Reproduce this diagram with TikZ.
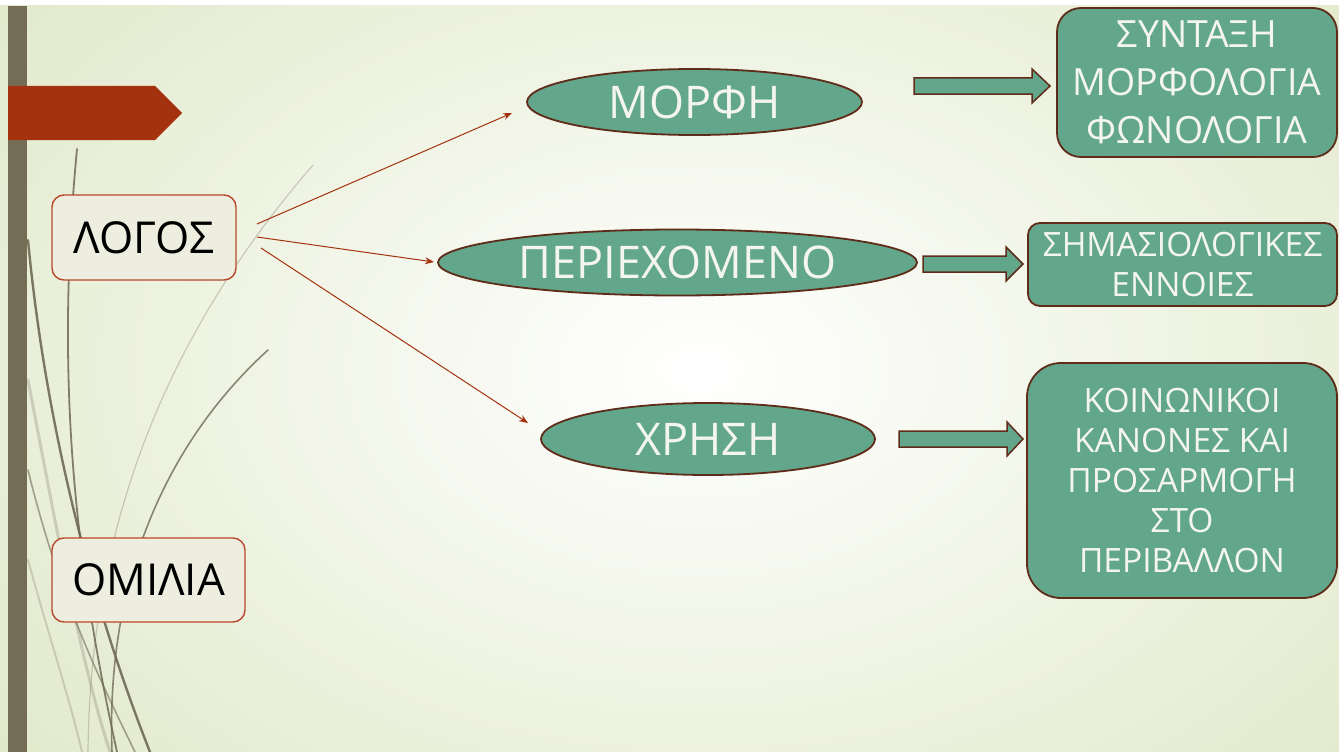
\documentclass[tikz,border=0pt]{standalone}
\usepackage{fontspec}
\setmainfont{Open Sans}
\usetikzlibrary{shapes.geometric,arrows.meta,calc}
\definecolor{bgout}{HTML}{E0E8C8}
\definecolor{barcol}{HTML}{756C55}
\definecolor{tabred}{HTML}{A4320F}
\definecolor{greenfill}{HTML}{62A68B}
\definecolor{darkborder}{HTML}{5E2C18}
\definecolor{lightbox}{HTML}{EDEEDF}
\definecolor{lightborder}{HTML}{B8492C}
\definecolor{stemcol}{HTML}{6F6A55}
\definecolor{txtwhite}{HTML}{F4F6EE}
\newcommand{\blockarr}[4]{% x1, xhead, xtip, ycenter
  \draw[blockarrow] (#1,#4-8) -- (#2,#4-8) -- (#2,#4-17) -- (#3,#4) -- (#2,#4+17) -- (#2,#4+8) -- (#1,#4+8) -- cycle;}
\tikzset{
  greenell/.style={ellipse, draw=darkborder, line width=1.8pt, fill=greenfill, text=txtwhite, inner sep=0pt, font=\fontsize{45}{54}\selectfont},
  greenbox/.style={rectangle, draw=darkborder, line width=1.8pt, fill=greenfill, text=txtwhite, inner sep=0pt, align=center},
  leftbox/.style={rectangle, rounded corners=12pt, draw=lightborder, line width=1.4pt, fill=lightbox, text=black, inner sep=0pt, font=\fontsize{44}{50}\selectfont},
  thinarrow/.style={draw=tabred, line width=1pt, -{Stealth[length=9pt,width=7pt]}},
  blockarrow/.style={draw=darkborder, line width=1.5pt, fill=greenfill},
  stemline/.style={draw=stemcol, line cap=round}
}
\begin{document}
\begin{tikzpicture}[x=1pt,y=-1pt]
\useasboundingbox (0,0) rectangle (1339,752);
% background
\fill[bgout] (0,0) rectangle (1339,752);
\begin{scope}
\clip (0,0) rectangle (1339,752);
\shade[inner color=white, outer color=bgout] (700,370) ellipse [x radius=950, y radius=640];
\end{scope}
\fill[white] (0,0) rectangle (1339,5);
% left bar and tab
\fill[barcol] (8,6) rectangle (27,752);
\fill[tabred] (8,86) -- (155,86) -- (182,113) -- (155,140) -- (8,140) -- cycle;
% decorative stems
\draw[stemline, line width=1.2pt, opacity=.3] (313,165) .. controls (170,330) and (90,520) .. (88,752);
\draw[stemline, line width=3pt, opacity=.25] (28,380) .. controls (55,520) and (80,660) .. (110,752);
\draw[stemline, line width=2pt, opacity=.25] (28,560) .. controls (50,640) and (70,700) .. (82,752);
\draw[stemline, line width=1.8pt, opacity=.85] (77,149) .. controls (55,380) and (75,560) .. (117,752);
\draw[stemline, line width=2.4pt, opacity=.9] (28,240) .. controls (45,420) and (90,600) .. (150,752);
\draw[stemline, line width=1.6pt, opacity=.8] (268,350) .. controls (180,430) and (105,560) .. (112,752);
\draw[stemline, line width=1.6pt, opacity=.6] (28,470) .. controls (60,600) and (100,680) .. (135,752);
% left boxes
\node[leftbox, minimum width=184pt, minimum height=85pt] (logos) at (144,237.5) {ΛΟΓΟΣ};
\node[leftbox, minimum width=193pt, minimum height=84pt] (omilia) at (148.5,580) {ΟΜΙΛΙΑ};
% ellipses
\node[greenell, minimum width=335pt, minimum height=66pt] (morfi) at (694.5,102) {ΜΟΡΦΗ};
\node[greenell, minimum width=479pt, minimum height=66pt] (periex) at (677.5,262.5) {ΠΕΡΙΕΧΟΜΕΝΟ};
\node[greenell, minimum width=334pt, minimum height=72pt] (xrisi) at (708,439) {ΧΡΗΣΗ};
% right boxes
\node[greenbox, rounded corners=24pt, minimum width=280pt, minimum height=149pt, font=\fontsize{37.5}{48}\selectfont] (box1) at (1197,82.5) {ΣΥΝΤΑΞΗ\\ΜΟΡΦΟΛΟΓΙΑ\\ΦΩΝΟΛΟΓΙΑ};
\node[greenbox, rounded corners=12pt, minimum width=309pt, minimum height=83pt, font=\fontsize{33.5}{40}\selectfont] (box2) at (1182.5,264.5) {ΣΗΜΑΣΙΟΛΟΓΙΚΕΣ\\ΕΝΝΟΙΕΣ};
\node[greenbox, rounded corners=34pt, minimum width=310pt, minimum height=235pt, font=\fontsize{33.5}{40}\selectfont] (box3) at (1182,480.5) {ΚΟΙΝΩΝΙΚΟΙ\\ΚΑΝΟΝΕΣ ΚΑΙ\\ΠΡΟΣΑΡΜΟΓΗ\\ΣΤΟ\\ΠΕΡΙΒΑΛΛΟΝ};
% thin arrows
\coordinate (s1) at (257,224);
\coordinate (s2) at (257,237);
\coordinate (s3) at (261,248);
\coordinate (e1) at (512,113);
\coordinate (e2) at (434,262);
\coordinate (e3) at (528,423);
\draw[thinarrow] (s1) -- (e1);
\draw[thinarrow] (s2) -- (e2);
\draw[thinarrow] (s3) -- (e3);
% block arrows
\blockarr{914}{1032}{1050}{86}
\blockarr{923}{1006}{1023}{264}
\blockarr{899}{1007}{1023}{439}
\end{tikzpicture}
\end{document}
